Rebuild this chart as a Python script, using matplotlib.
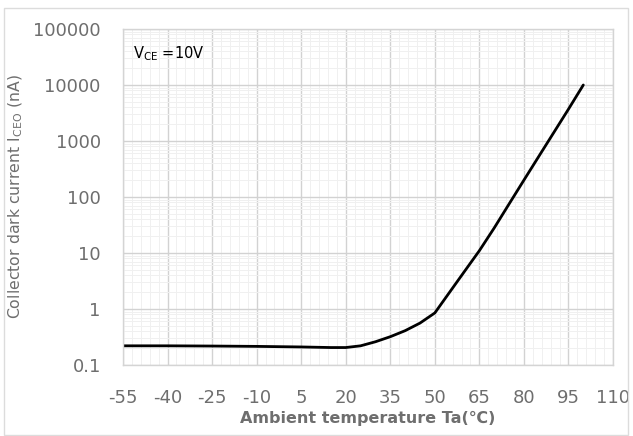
import numpy as np
import matplotlib
matplotlib.use("Agg")
import matplotlib.pyplot as plt
from matplotlib.ticker import FixedLocator, NullFormatter, LogLocator

plt.rcParams["axes.unicode_minus"] = False

# datos
temp = [-55, -40, -25, -10, 5, 15, 20, 25, 30, 35, 40, 45, 50,
        55, 60, 65, 70, 75, 80, 85, 90, 95, 100]
corriente = [0.22, 0.22, 0.218, 0.215, 0.21, 0.205, 0.205, 0.22, 0.26, 0.32, 0.41, 0.56, 0.85,
             2.0, 4.7, 11.0, 28, 75, 200, 530, 1400, 3700, 10000]

xticks = [-55, -40, -25, -10, 5, 20, 35, 50, 65, 80, 95, 110]
yticks = [0.1, 1, 10, 100, 1000, 10000, 100000]
ylabels = ["0.1", "1", "10", "100", "1000", "10000", "100000"]

gris = "#6e6e6e"

fig = plt.figure(figsize=(6.33, 4.36), dpi=100)
ax = fig.add_axes([123/633, 1-365/436, 490/633, 336/436])

# marco exterior claro
fig.patches.append(plt.Rectangle((4/633, 0.002), 624/633, 1-9/436, transform=fig.transFigure,
                                 fill=False, edgecolor="#dcdcdc", lw=1.0))

ax.plot(temp, corriente, color="black", lw=2.0, solid_capstyle="round", solid_joinstyle="round")

ax.set_yscale("log")
ax.set_xlim(-55, 110)
ax.set_ylim(0.1, 100000)

ax.set_xticks(xticks)
ax.xaxis.set_minor_locator(FixedLocator(np.arange(-55, 111, 3)))
ax.set_yticks(yticks)
ax.set_yticklabels(ylabels)
ax.yaxis.set_minor_locator(LogLocator(base=10, subs=np.arange(2, 10)))
ax.yaxis.set_minor_formatter(NullFormatter())

ax.grid(True, which="major", color="#d2d2d2", lw=1.0)
ax.grid(True, which="minor", color="#f0f0f0", lw=0.7)
ax.set_axisbelow(True)

for s in ax.spines.values():
    s.set_color("#d4d4d4")
    s.set_linewidth(1.0)

ax.tick_params(which="both", length=0)
ax.tick_params(axis="x", pad=17, labelsize=13, labelcolor=gris)
ax.tick_params(axis="y", pad=16, labelsize=13, labelcolor=gris)

ax.set_xlabel("Ambient temperature Ta(℃)", fontsize=11.5, fontweight="bold", color=gris, labelpad=3)
ax.set_ylabel(r"Collector dark current I$_{\rm CEO}$ (nA)", fontsize=11.3, color=gris)
ax.yaxis.set_label_coords(-98/490, 0.5)

ax.text(-51.6, 37000, r"V$_{\rm CE}$ =10V", fontsize=10.5, color="black", va="center")

plt.savefig("out.png", dpi=100)
